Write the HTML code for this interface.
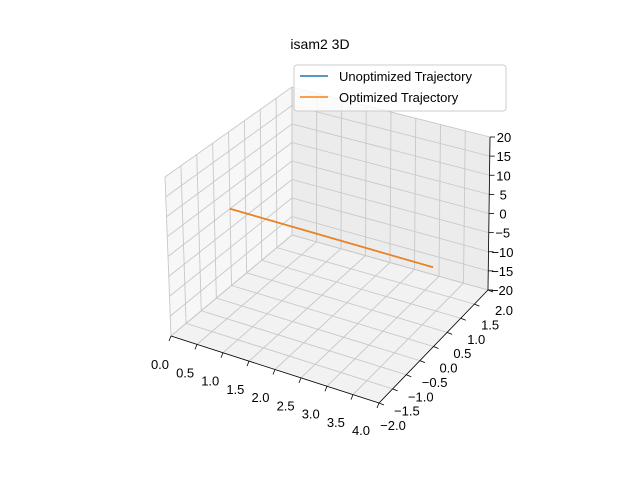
<!DOCTYPE html>
<html><head><meta charset="utf-8"><style>
body{margin:0;background:#fff;}
svg{font-family:"Liberation Sans","DejaVu Sans",sans-serif;}
</style></head><body>
<svg id="chart" width="640" height="480" viewBox="0 0 640 480" xmlns="http://www.w3.org/2000/svg">
<rect width="640" height="480" fill="#fff"/>
<text x="320" y="49" text-anchor="middle" font-size="14" fill="#000">isam2 3D</text>
<g id="panes"></g>
<g id="grid"></g>
<g id="axes"></g>
<g id="series"></g>
<g>
<rect x="294" y="65" width="212" height="46" rx="3" fill="#fff" fill-opacity="0.8" stroke="#ccc"/>
<line x1="300" y1="76" x2="328" y2="76" stroke="#1f77b4" stroke-width="1.5"/>
<text x="339" y="81" font-size="13">Unoptimized Trajectory</text>
<line x1="300" y1="97" x2="328" y2="97" stroke="#ff7f0e" stroke-width="1.5"/>
<text x="339" y="102" font-size="13">Optimized Trajectory</text>
</g>
</svg>
<script>
const xTicks=[0,0.5,1,1.5,2,2.5,3,3.5,4];
const yTicks=[-2,-1.5,-1,-0.5,0,0.5,1,1.5,2];
const zTicks=[-20,-15,-10,-5,0,5,10,15,20];
const xTickLabels=["0.0","0.5","1.0","1.5","2.0","2.5","3.0","3.5","4.0"];
const yTickLabels=["\u22122.0","\u22121.5","\u22121.0","\u22120.5","0.0","0.5","1.0","1.5","2.0"];
const zTickLabels=["\u221220","\u221215","\u221210","\u22125","0","5","10","15","20"];
const unoptX=[0,1,2,3,4];
const unoptY=[0,0,0,0,0];
const unoptZ=[0,0,0,0,0];
const optX=[0,1,2,3,4];
const optY=[0,0,0,0,0];
const optZ=[0,0,0,0,0];

const NS="http://www.w3.org/2000/svg";
const F={a:[171,336],b:[292,235],c:[488,290],d:[379,403]};
const T={a:[165,177],b:[292,87],c:[490,137],d:[375,239]};
function bil(C,u,v){
  return [0,1].map(i=>(1-u)*(1-v)*C.a[i]+(1-u)*v*C.b[i]+u*v*C.c[i]+u*(1-v)*C.d[i]);
}
function proj(x,y,z){
  const u=x/4,v=(y+2)/4,w=(z+20)/40;
  const f=bil(F,u,v),t=bil(T,u,v);
  return [f[0]+(t[0]-f[0])*w,f[1]+(t[1]-f[1])*w];
}
function el(tag,attrs,parent){const e=document.createElementNS(NS,tag);for(const k in attrs)e.setAttribute(k,attrs[k]);parent.appendChild(e);return e;}
const panes=document.getElementById('panes'),grid=document.getElementById('grid'),axes=document.getElementById('axes'),series=document.getElementById('series');
function poly(pts,fill,name){const p=el('polygon',{points:pts.map(q=>q.join(',')).join(' '),fill:fill,stroke:'none'},panes);

}
poly([proj(0,-2,-20),proj(0,2,-20),proj(4,2,-20),proj(4,-2,-20)],'#f2f2f2','floor-pane');
poly([proj(0,-2,-20),proj(0,2,-20),proj(0,2,20),proj(0,-2,20)],'#f7f7f7','left-pane');
poly([proj(0,2,-20),proj(4,2,-20),proj(4,2,20),proj(0,2,20)],'#ececec','back-pane');
function gl(p,q,name){const l=el('line',{x1:p[0],y1:p[1],x2:q[0],y2:q[1],stroke:'#c8c8c8','stroke-width':0.9},grid);

}
xTicks.forEach(x=>{gl(proj(x,-2,-20),proj(x,2,-20),'grid-x-floor');gl(proj(x,2,-20),proj(x,2,20),'grid-x-back');});
yTicks.forEach(y=>{gl(proj(0,y,-20),proj(4,y,-20),'grid-y-floor');gl(proj(0,y,-20),proj(0,y,20),'grid-y-left');});
zTicks.forEach(z=>{gl(proj(0,-2,z),proj(0,2,z),'grid-z-left');gl(proj(0,2,z),proj(4,2,z),'grid-z-back');});
function al(p,q,name){const l=el('line',{x1:p[0],y1:p[1],x2:q[0],y2:q[1],stroke:'#000','stroke-width':0.8},axes);

}
function txt(x,y,s,anchor,name){const t=el('text',{x:x,y:y,'font-size':13,'text-anchor':anchor},axes);t.textContent=s;

}
al(proj(0,-2,-20),proj(4,-2,-20),'x-axis-line');
al(proj(4,-2,-20),proj(4,2,-20),'y-axis-line');
al(proj(4,2,-20),proj(4,2,20),'z-axis-line');
xTicks.forEach((x,i)=>{const p=proj(x,-2,-20);al(p,[p[0]-2,p[1]+5],'x-tick');
  const f=x/4;txt(p[0]-11-7*f,p[1]+33-1*f,xTickLabels[i],'middle','x-tick-label');});
yTicks.forEach((y,i)=>{const p=proj(4,y,-20);al(p,[p[0]+5,p[1]+2],'y-tick');
  const f=(y+2)/4;txt(p[0]+14+2*f,p[1]+27-2*f,yTickLabels[i],'middle','y-tick-label');});
zTicks.forEach((z,i)=>{const p=proj(4,2,z);al(p,[p[0]+5,p[1]],'z-tick');
  txt(p[0]+14,p[1]+5,zTickLabels[i],'middle','z-tick-label');});
function line(X,Y,Z,color,name){const pts=X.map((x,i)=>proj(x,Y[i],Z[i]).join(',')).join(' ');
  const l=el('polyline',{points:pts,fill:'none',stroke:color,'stroke-width':1.5},series);
  
  }
line(unoptX,unoptY,unoptZ,'#1f77b4','unoptimized-trajectory');
line(optX,optY,optZ,'#ff7f0e','optimized-trajectory');
</script>
</body></html>
